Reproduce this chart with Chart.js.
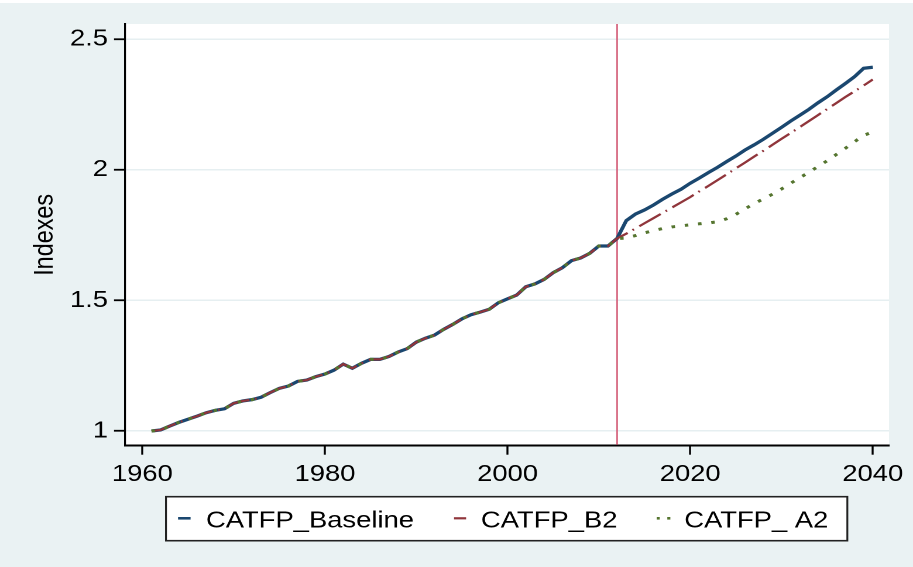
<!DOCTYPE html>
<html>
<head>
<meta charset="utf-8">
<script src="https://cdn.jsdelivr.net/npm/chart.js@4"></script>
<style>
  html, body { margin: 0; padding: 0; background: #EAF2F3; }
  #wrap { width: 913px; height: 567px; overflow: hidden; position: relative; background: #EAF2F3; }
  #c { position: absolute; left: 0; top: 0; transform-origin: 0 0; transform: scaleX(1.17051); }
</style>
</head>
<body>
<div id="wrap"><canvas id="c" width="780" height="567"></canvas></div>
<script>
// ---------------- DATA ----------------
const years = [
  1961,1962,1963,1964,1965,1966,1967,1968,1969,1970,
  1971,1972,1973,1974,1975,1976,1977,1978,1979,1980,
  1981,1982,1983,1984,1985,1986,1987,1988,1989,1990,
  1991,1992,1993,1994,1995,1996,1997,1998,1999,2000,
  2001,2002,2003,2004,2005,2006,2007,2008,2009,2010,
  2011,2012,2013,2014,2015,2016,2017,2018,2019,2020,
  2021,2022,2023,2024,2025,2026,2027,2028,2029,2030,
  2031,2032,2033,2034,2035,2036,2037,2038,2039,2040
];
// shared historical index 1961-2012
const historical = [
  1.000,1.004,1.019,1.033,1.045,1.057,1.070,1.079,1.085,1.106,
  1.115,1.120,1.129,1.147,1.163,1.172,1.190,1.195,1.208,1.218,
  1.233,1.256,1.240,1.259,1.274,1.274,1.285,1.302,1.315,1.340,
  1.355,1.367,1.389,1.408,1.429,1.445,1.455,1.466,1.491,1.506,
  1.520,1.552,1.563,1.580,1.606,1.625,1.652,1.662,1.680,1.708,
  1.708,1.737
];
// projections 2013-2040
const baselineProj = [
  1.805,1.830,1.846,1.865,1.887,1.907,1.925,1.948,1.968,1.989,
  2.009,2.031,2.052,2.075,2.095,2.116,2.139,2.162,2.186,2.208,
  2.231,2.256,2.279,2.305,2.330,2.356,2.388,2.392
];
const b2Proj = [
  1.755,1.775,1.795,1.815,1.835,1.855,1.875,1.895,1.917,1.938,
  1.960,1.982,2.005,2.027,2.050,2.072,2.095,2.118,2.140,2.163,
  2.186,2.209,2.232,2.255,2.278,2.300,2.322,2.345
];
const a2Proj = [
  1.738,1.748,1.758,1.767,1.775,1.781,1.785,1.789,1.793,1.796,
  1.801,1.812,1.829,1.850,1.870,1.888,1.906,1.926,1.948,1.969,
  1.990,2.012,2.034,2.058,2.082,2.107,2.131,2.145
];
const seriesLabels = ['CATFP_Baseline', 'CATFP_B2', 'CATFP_ A2'];
const xTicks = [1960, 1980, 2000, 2020, 2040];
const yTicks = [1, 1.5, 2, 2.5];
const projectionStart = 2012;
const yTitle = 'Indexes';

// ---------------- CHART ----------------
const FONT = "'Liberation Sans', Arial, Helvetica, sans-serif";
const FS = 23.4;
Chart.defaults.font.family = FONT;
Chart.defaults.color = '#000';

function pts(vals) { return vals.map((v, i) => ({ x: years[i], y: v })); }

const colors = ['#1A476F', '#90353B', '#55752F'];

const bgPlugin = {
  id: 'bg',
  beforeDraw(chart) {
    const { ctx, chartArea: a, width, height } = chart;
    ctx.save();
    ctx.fillStyle = '#EAF2F3';
    ctx.fillRect(0, 0, width, height);
    ctx.fillStyle = '#FFFFFF';
    ctx.fillRect(0, 0, width, 3);
    ctx.fillRect(a.left, a.top, a.right - a.left, a.bottom - a.top);
    ctx.restore();
  }
};

const vlinePlugin = {
  id: 'vline',
  beforeDatasetsDraw(chart) {
    const { ctx, chartArea: a } = chart;
    const x = chart.scales.x.getPixelForValue(projectionStart);
    ctx.save();
    ctx.strokeStyle = '#D6667F';
    ctx.lineWidth = 1.4;
    ctx.beginPath();
    ctx.moveTo(x, a.top);
    ctx.lineTo(x, a.bottom - 1);
    ctx.stroke();
    ctx.restore();
  }
};

const legendPlugin = {
  id: 'boxLegend',
  afterDraw(chart) {
    const ctx = chart.ctx;
    const box = { l: 141.8, t: 496.7, r: 723.9, b: 540.7 };
    ctx.save();
    ctx.fillStyle = '#FFFFFF';
    ctx.fillRect(box.l, box.t, box.r - box.l, box.b - box.t);
    ctx.strokeStyle = '#222';
    ctx.lineWidth = 1.6;
    ctx.strokeRect(box.l, box.t, box.r - box.l, box.b - box.t);
    const symY = 518.3;
    const symX = [152.1, 387.9, 561.0];
    const textX = [176.0, 410.9, 584.6];
    const ds = chart.data.datasets;
    // symbols
    ctx.lineCap = 'butt';
    ctx.strokeStyle = ds[0].borderColor; ctx.lineWidth = 2.6;
    ctx.beginPath(); ctx.moveTo(symX[0], symY); ctx.lineTo(symX[0] + 10.7, symY); ctx.stroke();
    ctx.strokeStyle = ds[1].borderColor; ctx.lineWidth = 2.2;
    ctx.beginPath(); ctx.moveTo(symX[1], symY); ctx.lineTo(symX[1] + 10.3, symY); ctx.stroke();
    ctx.fillStyle = ds[2].borderColor;
    ctx.fillRect(symX[2], symY - 1.3, 2.6, 2.6);
    ctx.fillRect(symX[2] + 9.1, symY - 1.3, 2.6, 2.6);
    // labels
    ctx.fillStyle = '#000';
    ctx.font = FS + 'px ' + FONT;
    ctx.textBaseline = 'alphabetic';
    ctx.textAlign = 'left';
    for (let i = 0; i < ds.length; i++) ctx.fillText(ds[i].label, textX[i], 527.7);
    ctx.restore();
  }
};

new Chart(document.getElementById('c'), {
  type: 'line',
  data: {
    datasets: [
      {
        label: seriesLabels[0],
        data: pts(historical.concat(baselineProj)),
        borderColor: colors[0], borderWidth: 3.2, order: 2
      },
      {
        label: seriesLabels[1],
        data: pts(historical.concat(b2Proj)),
        borderColor: colors[1], borderWidth: 2.2, borderDash: [22, 5, 1.5, 5.5], order: 1
      },
      {
        label: seriesLabels[2],
        data: pts(historical.concat(a2Proj)),
        borderColor: colors[2], borderWidth: 3, borderDash: [3, 8.4], order: 0
      }
    ]
  },
  options: {
    responsive: false,
    animation: false,
    devicePixelRatio: 2,
    elements: { point: { radius: 0 }, line: { tension: 0, fill: false, borderCapStyle: 'butt' } },
    layout: { padding: { left: 0, right: 20.5, top: 24, bottom: 0 } },
    plugins: { legend: { display: false }, tooltip: { enabled: false } },
    scales: {
      x: {
        type: 'linear',
        position: 'bottom',
        min: 1958.1,
        max: 2041.78,
        afterBuildTicks(s) { s.ticks = xTicks.map(v => ({ value: v })); },
        afterFit(s) { s.height = 121.3; },
        ticks: { font: { size: FS }, color: '#000', padding: 5.7, maxRotation: 0, autoSkip: false,
                 callback: v => String(v) },
        grid: { drawOnChartArea: false, drawTicks: true, tickLength: 9, tickColor: '#000', tickWidth: 1.7 },
        border: { display: true, color: '#000', width: 2 }
      },
      y: {
        type: 'linear',
        position: 'left',
        min: 0.9437,
        max: 2.5576,
        afterBuildTicks(s) { s.ticks = yTicks.map(v => ({ value: v })); },
        afterFit(s) { s.width = 106.8; },
        ticks: { font: { size: FS }, color: '#000', padding: 5.1, autoSkip: false,
                 callback: v => String(v) },
        grid: { color: '#E6EFF1', lineWidth: 1.5, drawTicks: true, tickLength: 9.4, tickColor: '#000', tickWidth: 1.8 },
        border: { display: true, color: '#000', width: 1.6 },
        title: { display: true, text: yTitle, font: { size: FS }, color: '#000', padding: { top: 24.5, bottom: 0 } }
      }
    }
  },
  plugins: [bgPlugin, vlinePlugin, legendPlugin]
});
</script>
</body>
</html>
